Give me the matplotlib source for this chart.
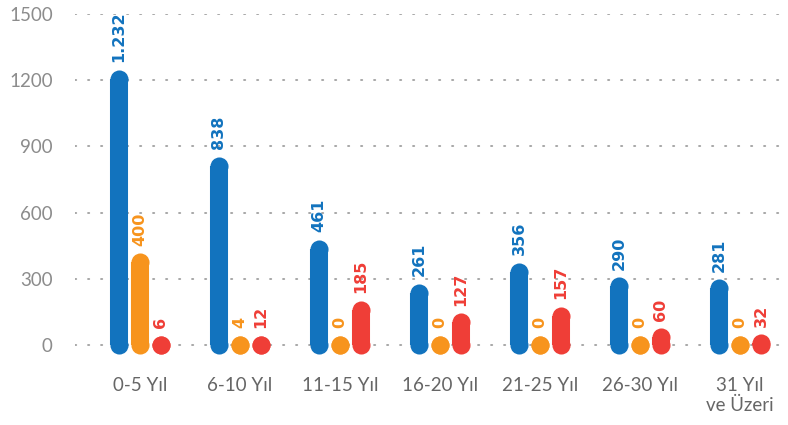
import matplotlib
matplotlib.use("Agg")
import matplotlib.pyplot as plt
import numpy as np

kategoriler = ["0-5 Yıl", "6-10 Yıl", "11-15 Yıl", "16-20 Yıl", "21-25 Yıl", "26-30 Yıl", "31 Yıl\nve Üzeri"]
seri_mavi = [1232, 838, 461, 261, 356, 290, 281]
seri_turuncu = [400, 4, 0, 0, 0, 0, 0]
seri_kirmizi = [6, 12, 185, 127, 157, 60, 32]
etiket_mavi = ["1.232", "838", "461", "261", "356", "290", "281"]
y_ticks = [0, 300, 600, 900, 1200, 1500]

renkler = ["#1273be", "#f7941d", "#ef3e37"]

fig = plt.figure(figsize=(7.88, 4.25), dpi=100)
ax = fig.add_axes([75 / 788, 1 - 360.4 / 425, 713 / 788, 346.4 / 425])
ax.set_xlim(-0.65, 6.48)
ax.set_ylim(-70, 1500)

x = np.arange(len(kategoriler))
ofset = 0.21
seriler = [seri_mavi, seri_turuncu, seri_kirmizi]
etiketler = [etiket_mavi, [str(v) for v in seri_turuncu], [str(v) for v in seri_kirmizi]]

for grid_y in y_ticks:
    ax.plot([-0.65, 6.48], [grid_y, grid_y], color="#a0a0a0", lw=1.3,
            linestyle=(0, (0.7, 6.5)), dash_capstyle="round", zorder=1)

# cubuklar: govde + iki ucta daire (yuvarlak uclar)
for i, (seri, renk, ets) in enumerate(zip(seriler, renkler, etiketler)):
    for xi, v, et in zip(x, seri, ets):
        xx = xi + (i - 1) * ofset
        ust = max(v - 25, 0)
        ax.plot([xx, xx], [0, ust], color=renk, lw=13, solid_capstyle="butt", zorder=3)
        ax.plot([xx, xx], [0, ust], "o", color=renk, ms=13, mew=0, zorder=3)
        ax.annotate(et, (xx, ust), xytext=(0, 12), textcoords="offset points",
                    rotation=90, ha="center", va="bottom", color=renk,
                    fontsize=11.5, fontweight="bold", family="DejaVu Sans", zorder=4)

ax.set_yticks(y_ticks)
ax.set_yticklabels([str(t) for t in y_ticks], family="Lato", fontweight="normal",
                   fontsize=13.5, color="#8c8c8c")
ax.set_xticks(x)
ax.set_xticklabels(kategoriler, family="Lato", fontweight="normal", fontsize=13.5,
                   color="#666666", linespacing=1.2)
ax.tick_params(axis="y", length=0, pad=16)
ax.tick_params(axis="x", length=0, pad=12)
for s in ax.spines.values():
    s.set_visible(False)

fig.savefig("out.png", dpi=100)
